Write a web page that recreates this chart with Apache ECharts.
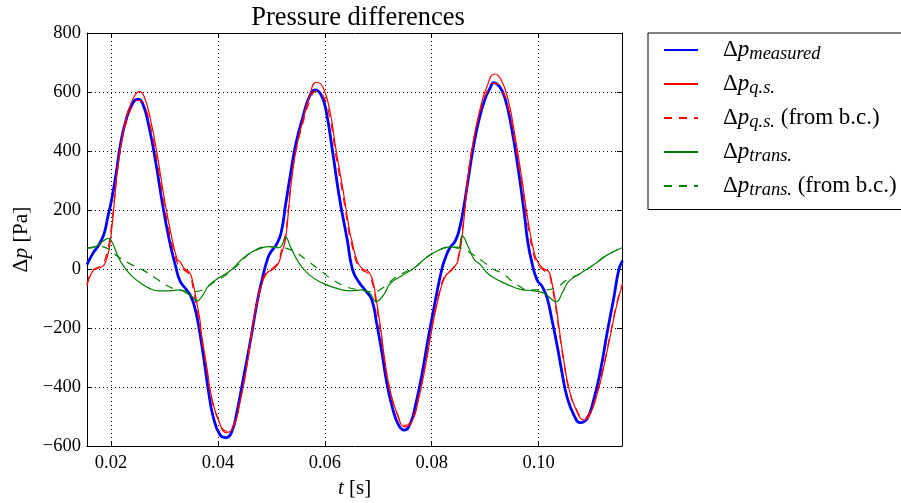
<!DOCTYPE html>
<html>
<head>
<meta charset="utf-8">
<script src="https://cdn.jsdelivr.net/npm/echarts@6/dist/echarts.min.js"></script>
<style>html,body{margin:0;padding:0;background:#fff;}#chart{width:901px;height:503px;}</style>
</head>
<body>
<div id="chart"></div>
<script>
// ---- data (t [s], Δp [Pa]) ----
const measured = [[0.0155,15],[0.0166,53],[0.0176,78],[0.0182,98],[0.0188,126],[0.0194,177],[0.0201,234],[0.0210,330],[0.0218,426],[0.0228,505],[0.0240,560],[0.0250,576],[0.0259,562],[0.0271,482],[0.0284,358],[0.0296,223],[0.0309,98],[0.0321,8],[0.0329,-40],[0.0340,-68],[0.0348,-88],[0.0355,-120],[0.0363,-184],[0.0373,-297],[0.0382,-410],[0.0391,-500],[0.0404,-563],[0.0415,-572],[0.0426,-551],[0.0435,-489],[0.0447,-376],[0.0460,-252],[0.0473,-116],[0.0482,-40],[0.0493,35],[0.0500,60],[0.0509,82],[0.0518,121],[0.0527,223],[0.0537,336],[0.0546,426],[0.0559,516],[0.0571,584],[0.0582,607],[0.0593,590],[0.0602,539],[0.0615,392],[0.0627,245],[0.0642,98],[0.0652,-3],[0.0664,-45],[0.0677,-75],[0.0688,-105],[0.0697,-184],[0.0707,-286],[0.0716,-387],[0.0726,-467],[0.0738,-529],[0.0749,-546],[0.0760,-523],[0.0769,-467],[0.0782,-354],[0.0794,-229],[0.0807,-105],[0.0819,0],[0.0826,40],[0.0834,72],[0.0844,95],[0.0851,130],[0.0859,200],[0.0868,302],[0.0877,403],[0.0887,494],[0.0899,573],[0.0909,612],[0.0916,632],[0.0927,618],[0.0937,579],[0.0949,482],[0.0962,336],[0.0974,177],[0.0979,100],[0.0987,25],[0.0997,-37],[0.1007,-60],[0.1016,-99],[0.1025,-173],[0.1035,-263],[0.1044,-354],[0.1053,-433],[0.1066,-495],[0.1078,-521],[0.1091,-506],[0.1103,-444],[0.1116,-342],[0.1128,-218],[0.1141,-94],[0.1150,-3],[0.1157,28]];

const quasiStatic = [[0.0155,-55],[0.0165,-9],[0.0175,2],[0.0184,8],[0.0190,25],[0.0196,64],[0.0201,132],[0.0206,223],[0.0212,336],[0.0221,448],[0.0231,528],[0.0243,584],[0.0253,601],[0.0262,584],[0.0274,505],[0.0287,381],[0.0299,245],[0.0312,121],[0.0324,31],[0.0329,25],[0.0338,0],[0.0347,-12],[0.0353,-45],[0.0360,-110],[0.0366,-170],[0.0369,-218],[0.0379,-331],[0.0388,-433],[0.0401,-512],[0.0416,-555],[0.0429,-535],[0.0441,-455],[0.0454,-331],[0.0466,-184],[0.0479,-71],[0.0491,-15],[0.0504,0],[0.0513,19],[0.0519,53],[0.0526,98],[0.0531,177],[0.0537,290],[0.0546,403],[0.0559,505],[0.0571,584],[0.0584,633],[0.0596,618],[0.0609,539],[0.0621,403],[0.0634,268],[0.0646,132],[0.0650,100],[0.0661,25],[0.0671,0],[0.0681,-8],[0.0689,-35],[0.0695,-90],[0.0701,-160],[0.0705,-210],[0.0713,-320],[0.0722,-410],[0.0735,-489],[0.0750,-535],[0.0763,-518],[0.0775,-444],[0.0788,-331],[0.0800,-207],[0.0813,-94],[0.0825,-26],[0.0838,-3],[0.0847,19],[0.0849,28],[0.0855,85],[0.0862,200],[0.0868,313],[0.0877,426],[0.0890,539],[0.0902,612],[0.0918,661],[0.0930,641],[0.0943,573],[0.0955,460],[0.0968,313],[0.0980,166],[0.0992,53],[0.1000,19],[0.1010,0],[0.1019,-9],[0.1025,-48],[0.1032,-116],[0.1038,-196],[0.1047,-308],[0.1056,-399],[0.1069,-472],[0.1085,-512],[0.1097,-489],[0.1110,-421],[0.1122,-331],[0.1135,-218],[0.1147,-116],[0.1157,-54]];

const quasiStaticBC = [[0.0155,-50],[0.0165,-5],[0.0175,5],[0.0184,15],[0.0190,40],[0.0196,85],[0.0201,150],[0.0206,230],[0.0212,330],[0.0221,440],[0.0231,512],[0.0243,560],[0.0253,572],[0.0262,556],[0.0274,480],[0.0287,355],[0.0299,222],[0.0312,100],[0.0324,20],[0.0329,10],[0.0338,-5],[0.0347,-20],[0.0353,-60],[0.0360,-130],[0.0366,-190],[0.0369,-230],[0.0379,-340],[0.0388,-438],[0.0401,-512],[0.0416,-550],[0.0429,-530],[0.0441,-450],[0.0454,-325],[0.0466,-178],[0.0479,-65],[0.0491,-10],[0.0504,5],[0.0513,25],[0.0519,65],[0.0526,115],[0.0531,190],[0.0537,295],[0.0546,400],[0.0559,495],[0.0571,565],[0.0584,603],[0.0596,590],[0.0609,515],[0.0621,380],[0.0634,248],[0.0646,115],[0.0650,85],[0.0661,15],[0.0671,-5],[0.0681,-15],[0.0689,-48],[0.0695,-105],[0.0701,-175],[0.0705,-222],[0.0713,-328],[0.0722,-415],[0.0735,-490],[0.0750,-530],[0.0763,-512],[0.0775,-438],[0.0788,-325],[0.0800,-200],[0.0813,-88],[0.0825,-22],[0.0838,0],[0.0847,25],[0.0849,35],[0.0855,95],[0.0862,210],[0.0868,318],[0.0877,425],[0.0890,530],[0.0902,595],[0.0918,630],[0.0930,612],[0.0943,548],[0.0955,438],[0.0968,292],[0.0980,148],[0.0992,40],[0.1000,10],[0.1010,-5],[0.1019,-18],[0.1025,-60],[0.1032,-130],[0.1038,-208],[0.1047,-315],[0.1056,-402],[0.1069,-470],[0.1085,-505],[0.1097,-482],[0.1110,-414],[0.1122,-325],[0.1135,-212],[0.1147,-110],[0.1157,-50]];

const transient = [[0.0155,70],[0.0171,76],[0.0184,93],[0.0195,104],[0.0203,87],[0.0212,47],[0.0224,8],[0.0240,-26],[0.0256,-48],[0.0271,-65],[0.0290,-74],[0.0309,-74],[0.0327,-71],[0.0340,-80],[0.0352,-94],[0.0361,-108],[0.0371,-90],[0.0384,-54],[0.0402,-30],[0.0420,-10],[0.0429,4],[0.0446,35],[0.0465,59],[0.0480,70],[0.0496,76],[0.0514,72],[0.0521,85],[0.0526,108],[0.0537,70],[0.0552,19],[0.0571,-20],[0.0596,-48],[0.0621,-65],[0.0646,-74],[0.0671,-71],[0.0684,-82],[0.0696,-110],[0.0710,-88],[0.0722,-50],[0.0741,-26],[0.0766,2],[0.0791,40],[0.0816,66],[0.0835,75],[0.0849,70],[0.0857,112],[0.0868,76],[0.0880,31],[0.0891,15],[0.0902,-10],[0.0916,-30],[0.0941,-52],[0.0966,-69],[0.0991,-74],[0.1010,-82],[0.1022,-99],[0.1033,-111],[0.1044,-82],[0.1056,-43],[0.1078,-15],[0.1103,14],[0.1128,47],[0.1157,73]];

const transientBC = [[0.0155,72],[0.0178,76],[0.0193,70],[0.0209,47],[0.0234,19],[0.0259,-3],[0.0284,-32],[0.0309,-60],[0.0334,-74],[0.0353,-77],[0.0371,-71],[0.0390,-48],[0.0415,-20],[0.0434,8],[0.0465,59],[0.0496,76],[0.0515,74],[0.0543,59],[0.0565,31],[0.0590,-3],[0.0615,-37],[0.0640,-60],[0.0665,-71],[0.0690,-77],[0.0712,-60],[0.0729,-32],[0.0750,-10],[0.0766,2],[0.0791,40],[0.0816,66],[0.0835,75],[0.0849,73],[0.0868,59],[0.0896,25],[0.0915,0],[0.0935,-18],[0.0955,-48],[0.0985,-71],[0.1010,-71],[0.1035,-60],[0.1053,-37],[0.1078,-15],[0.1103,14],[0.1128,47],[0.1157,73]];

const seriesNames = ['measured', 'q.s.', 'q.s. (from b.c.)', 'trans.', 'trans. (from b.c.)'];
const xTicks = [0.02, 0.04, 0.06, 0.08, 0.10];
const yTicks = [-600, -400, -200, 0, 200, 400, 600, 800];

// ---- chart ----
const FONT = 'Liberation Serif';
const chart = echarts.init(document.getElementById('chart'), null, {renderer: 'canvas'});

function legendLabel(name) {
  const m = name.match(/^(\S+)(.*)$/);
  return '{g| }{d|Δ}{p|p}{s|' + m[1] + '}' + (m[2] ? '{r|' + m[2] + '}' : '');
}

function xLabel(v) {
  for (const t of xTicks) if (Math.abs(v - t) < 1e-9) return t.toFixed(2);
  return '';
}
function yLabel(v) { return v < 0 ? '\u2212' + (-v) : String(v); }

const X_MIN = 0.0155, X_MAX = 0.1156;
const axisLineStyle = {color: '#000', width: 1};
const SMOOTH = 0.5;

const option = {
  animation: false,
  backgroundColor: '#fff',
  title: {
    text: 'Pressure differences', left: 353, top: 0, textAlign: 'center',
    textStyle: {fontFamily: FONT, fontSize: 26.5, fontWeight: 'normal', color: '#000'}
  },
  grid: {left: 87, right: 279, top: 33, bottom: 57, outerBoundsMode: 'none', containLabel: false},
  legend: {
    orient: 'vertical', left: 648, top: 33,
    padding: [4, 30, 10, 15],
    itemWidth: 34, itemHeight: 14, itemGap: 7.5,
    borderColor: '#000', borderWidth: 1, borderRadius: 0, backgroundColor: '#fff',
    itemStyle: {opacity: 0},
    data: seriesNames,
    formatter: legendLabel,
    textStyle: {
      fontFamily: FONT, fontSize: 23, color: '#000', lineHeight: 26,
      rich: {
        g: {width: 20, fontFamily: FONT, fontSize: 23},
        d: {fontFamily: FONT, fontSize: 23, color: '#000'},
        p: {fontFamily: FONT, fontSize: 23, fontStyle: 'italic', color: '#000'},
        s: {fontFamily: FONT, fontSize: 18.5, fontStyle: 'italic', color: '#000', padding: [8, 0, 0, 0]},
        r: {fontFamily: FONT, fontSize: 23, color: '#000'}
      }
    }
  },
  xAxis: [{
    type: 'value', min: X_MIN, max: X_MAX, splitNumber: 5, position: 'bottom',
    axisLine: {show: true, onZero: false, lineStyle: axisLineStyle},
    axisTick: {show: true, inside: true, length: 5, lineStyle: axisLineStyle},
    axisLabel: {formatter: xLabel, fontFamily: FONT, fontSize: 18.5, color: '#000', margin: 8, showMinLabel: false, showMaxLabel: false},
    splitLine: {show: true, lineStyle: {type: [1, 3], color: '#000', width: 1}},
    name: '{i|t}{n| [s]}', nameLocation: 'middle', nameGap: 23,
    nameTextStyle: {rich: {
      i: {fontFamily: FONT, fontSize: 21, fontStyle: 'italic', color: '#000'},
      n: {fontFamily: FONT, fontSize: 21, color: '#000'}
    }}
  }, {
    type: 'value', min: X_MIN, max: X_MAX, splitNumber: 5, position: 'top',
    axisLine: {show: true, onZero: false, lineStyle: axisLineStyle},
    axisTick: {show: true, inside: true, length: 5, lineStyle: axisLineStyle},
    axisLabel: {show: false}, splitLine: {show: false}
  }],
  yAxis: [{
    type: 'value', min: yTicks[0], max: yTicks[yTicks.length - 1], interval: 200, position: 'left',
    axisLine: {show: true, onZero: false, lineStyle: axisLineStyle},
    axisTick: {show: true, inside: true, length: 5, lineStyle: axisLineStyle},
    axisLabel: {formatter: yLabel, fontFamily: FONT, fontSize: 18.5, color: '#000', margin: 6},
    splitLine: {show: true, lineStyle: {type: [1, 3], color: '#000', width: 1}},
    name: '{d|Δ}{i|p}{n| [Pa]}', nameLocation: 'middle', nameGap: 55,
    nameTextStyle: {rich: {
      d: {fontFamily: FONT, fontSize: 21.5, color: '#000'},
      i: {fontFamily: FONT, fontSize: 21.5, fontStyle: 'italic', color: '#000'},
      n: {fontFamily: FONT, fontSize: 21.5, color: '#000'}
    }}
  }, {
    type: 'value', min: yTicks[0], max: yTicks[yTicks.length - 1], interval: 200, position: 'right',
    axisLine: {show: true, onZero: false, lineStyle: axisLineStyle},
    axisTick: {show: true, inside: true, length: 5, lineStyle: axisLineStyle},
    axisLabel: {show: false}, splitLine: {show: false}
  }],
  series: [
    {name: seriesNames[0], type: 'line', data: measured, symbol: 'none', smooth: SMOOTH,
     lineStyle: {color: '#0000ff', width: 2.8}, itemStyle: {color: '#0000ff'}, z: 2},
    {name: seriesNames[1], type: 'line', data: quasiStatic, symbol: 'none', smooth: SMOOTH,
     lineStyle: {color: '#ff0000', width: 1.2}, itemStyle: {color: '#ff0000'}, z: 3},
    {name: seriesNames[2], type: 'line', data: quasiStaticBC, symbol: 'none', smooth: SMOOTH,
     lineStyle: {color: '#ff0000', width: 1.2, type: [8, 7]}, itemStyle: {color: '#ff0000'}, z: 4},
    {name: seriesNames[3], type: 'line', data: transient, symbol: 'none', smooth: SMOOTH,
     lineStyle: {color: '#008000', width: 1.2}, itemStyle: {color: '#008000'}, z: 5},
    {name: seriesNames[4], type: 'line', data: transientBC, symbol: 'none', smooth: SMOOTH,
     lineStyle: {color: '#008000', width: 1.2, type: [8, 7]}, itemStyle: {color: '#008000'}, z: 6}
  ]
};
chart.setOption(option);
</script>
</body>
</html>
